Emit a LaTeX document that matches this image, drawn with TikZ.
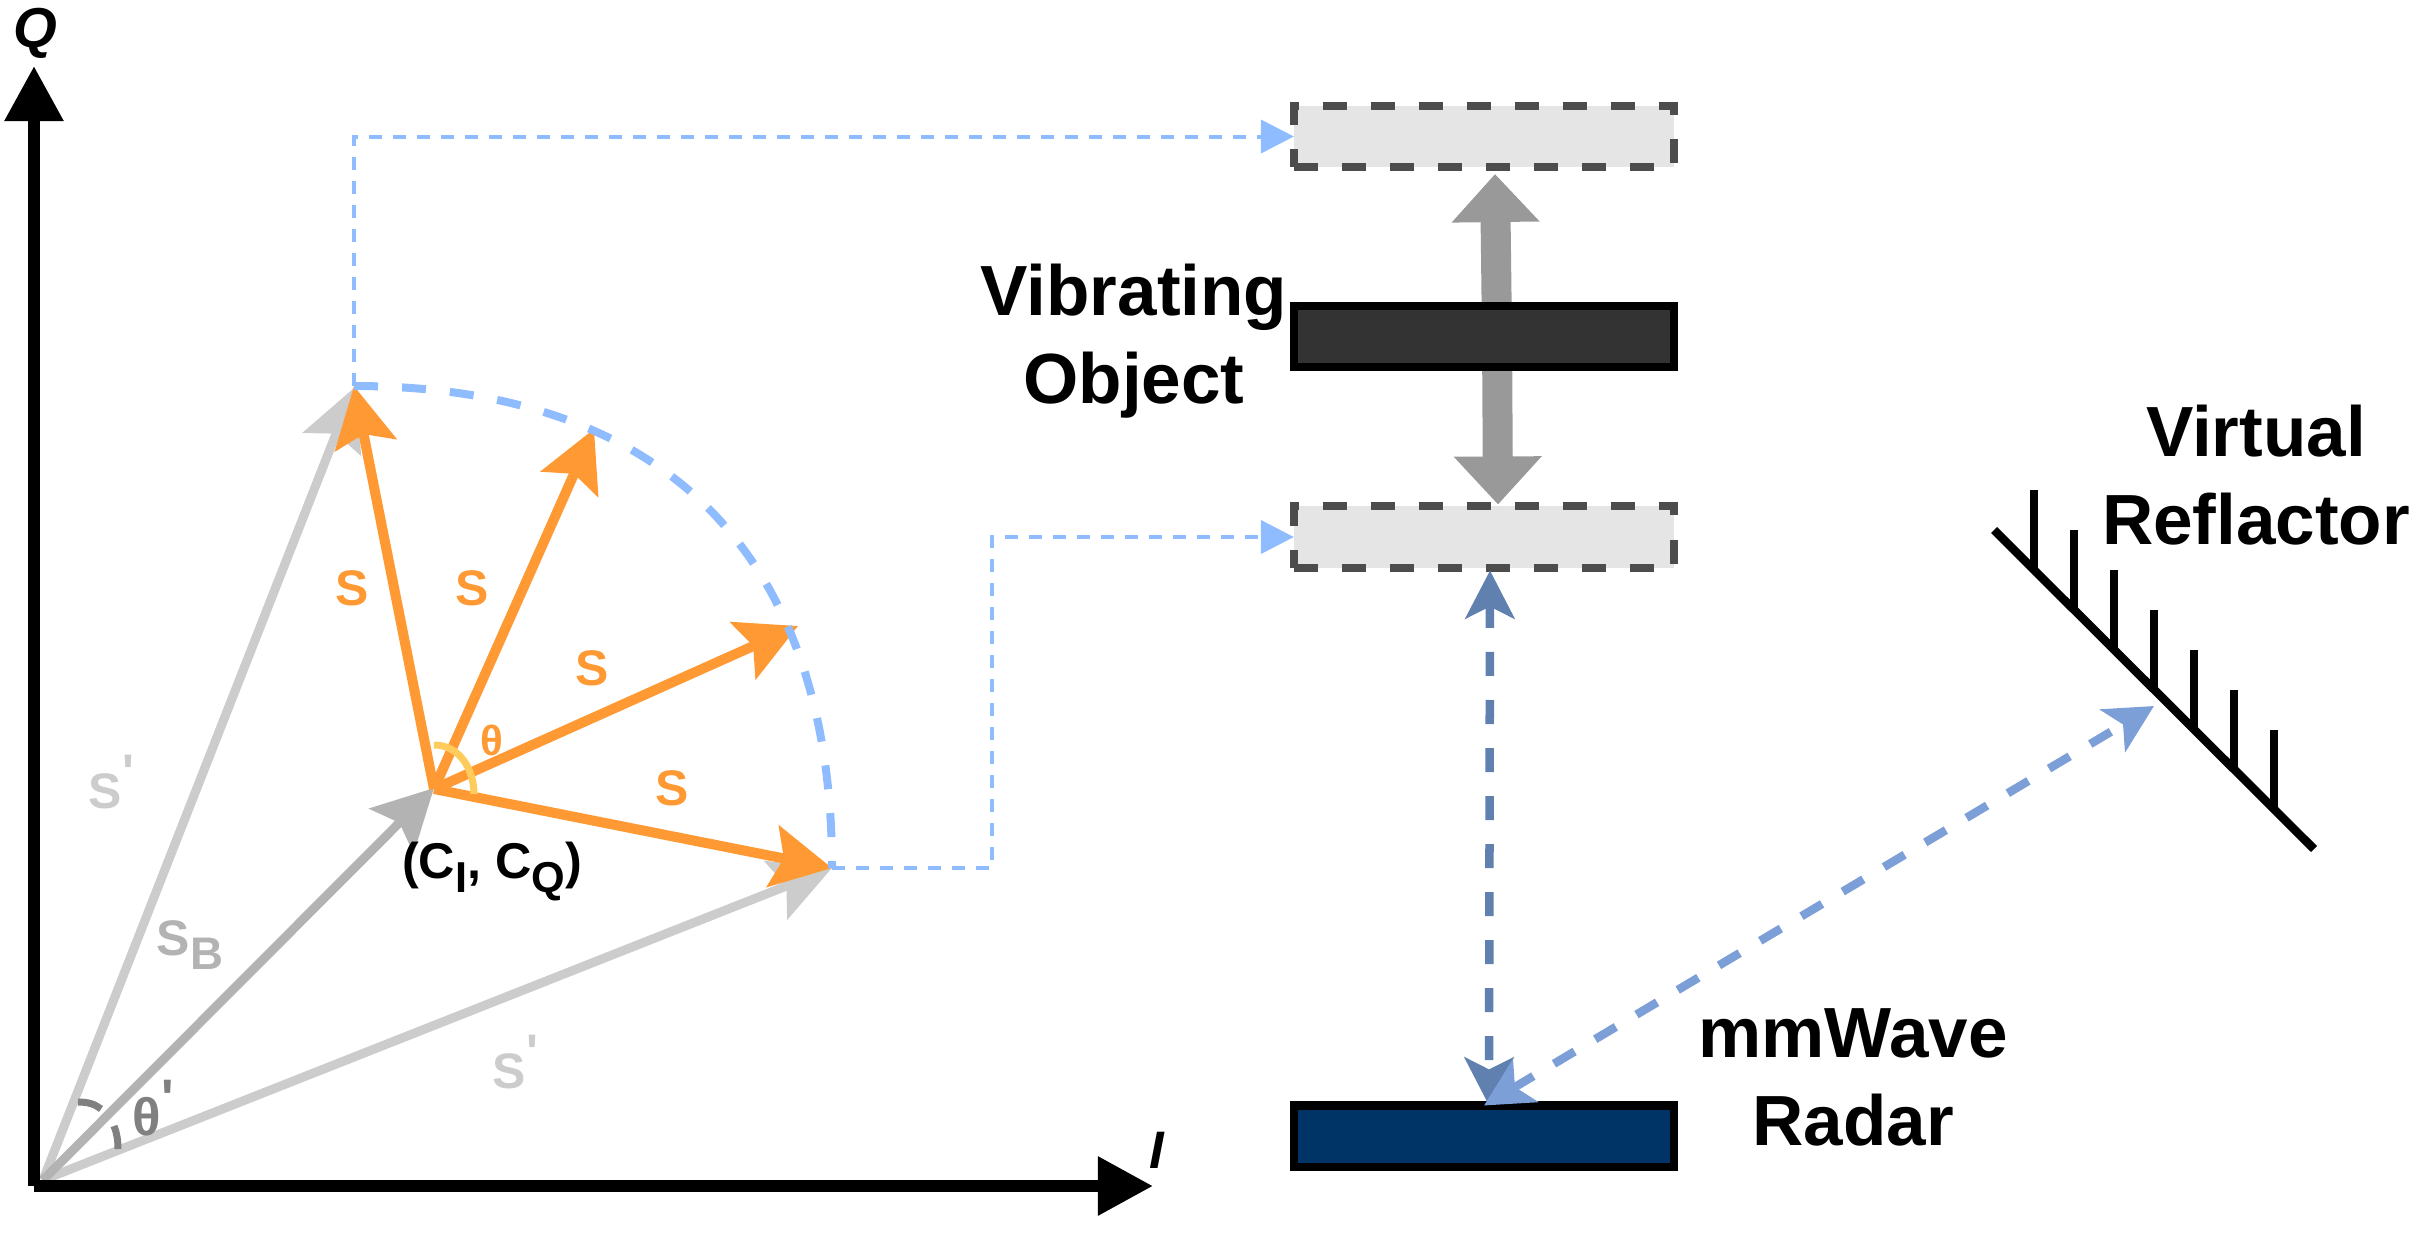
\documentclass[tikz,border=0pt]{standalone}
\usepackage{fontspec}
\usepackage{xcolor}
\usepackage{tikz}
\usetikzlibrary{arrows.meta,positioning}
\newfontfamily\labfont{Liberation Sans}
\definecolor{vecorange}{RGB}{255,153,51}
\definecolor{veclight}{RGB}{204,204,204}
\definecolor{vecbase}{RGB}{179,179,179}
\definecolor{anglegray}{RGB}{128,128,128}
\definecolor{anglegold}{RGB}{255,204,92}
\definecolor{traceblue}{RGB}{143,187,255}
\definecolor{pathdark}{RGB}{96,128,176}
\definecolor{pathlight}{RGB}{124,159,216}
\definecolor{navybox}{RGB}{0,51,102}
\newcommand{\fsz}[1]{\fontsize{#1}{#1}\selectfont}
\newcommand{\lowtxt}[1]{\raisebox{-0.14cm}{\fsz{12.3}#1}}
\newcommand{\hightxt}[1]{\raisebox{0.19cm}{#1}}
\tikzset{
  vechead/.tip={Stealth[length=0.6cm,width=0.62cm,inset=0.11cm]},
  pathhead/.tip={Stealth[length=0.48cm,width=0.49cm,inset=0.12cm]},
  vec/.style={-{vechead},line width=0.1cm,vecorange},
  graylen/.style={-{vechead},line width=0.09cm,veclight},
  axis/.style={-{Triangle[length=0.55cm,width=0.56cm]},line width=0.12cm},
  trace/.style={-{Triangle[length=0.33cm,width=0.33cm]},traceblue,line width=0.04cm,dash pattern=on 0.13cm off 0.11cm},
  vibmove/.style={-{Triangle[length=0.48cm,width=0.85cm]},line width=0.3cm,black!40},
  radarpath/.style={{pathhead}-{pathhead},line width=0.085cm,dash pattern=on 0.24cm off 0.24cm},
  plate/.style={rectangle,minimum width=3.8cm,minimum height=0.61cm,inner sep=0pt,outer sep=0pt,line width=0.08cm},
  ghost/.style={plate,draw=black!70,fill=black!10,dash pattern=on 0.24cm off 0.24cm},
  lab/.style={inner sep=0pt,anchor=base,font=\labfont\bfseries\fsz{14.2}},
  biglab/.style={inner sep=0pt,align=center,font=\labfont\bfseries\fontsize{20.2}{25}\selectfont},
}
\begin{document}
\begin{tikzpicture}[x=0.01cm,y=-0.01cm]
  \useasboundingbox (0,0) rectangle (2412,1248);
  \coordinate (origin) at (43,1180);
  \coordinate (centre) at (434,789);
  \coordinate (arcstart) at (354,386);
  \coordinate (arcend) at (832,868);
  \coordinate (tiptwo) at (594,429);
  \coordinate (tipthree) at (798,626);
  \coordinate (bend) at (992,537);
  \coordinate (mirrortip) at (2154,706);

  % gray vectors from the origin
  \draw[graylen] (origin)--(354,388);
  \draw[graylen] (origin)--(arcend);
  \draw[graylen,vecbase] (origin)--(434,788);
  \draw[anglegray,line width=0.07cm] (78,1102) .. controls (88,1102) and (95,1104) .. (101,1109);
  \draw[anglegray,line width=0.07cm] (114,1126) .. controls (117,1133) and (118,1141) .. (118,1149);

  % axes
  \draw[axis] (34,1186)--(34,66);
  \draw[axis] (34,1186)--(1153,1186);
  \node[lab,font=\labfont\bfseries\itshape\fsz{16}] (qlabel) at (35,47) {Q};
  \node[lab,font=\labfont\bfseries\itshape\fsz{15}] (ilabel) at (1157,1168) {I};

  % orange vectors
  \draw[vec] (centre)--(arcstart);
  \draw[vec] (centre)--(tiptwo);
  \draw[vec] (centre)--(tipthree);
  \draw[vec] (centre)--(arcend);
  \draw[anglegold,line width=0.07cm] (434,745) .. controls (460,745) and (474,770) .. (474,794);

  \foreach \n/\x/\y in {sa/352/605,sb/472/605,sc/592/685,sd/672/805}{
    \node[lab,vecorange] (\n) at (\x,\y) {S};}
  \node[lab,vecorange,font=\labfont\bfseries\fsz{12}] (thetaorange) at (492,755) {θ};
  \node[lab,veclight,anchor=base west] (sleft) at (88,808) {S\hightxt{'}};
  \node[lab,veclight,anchor=base west] (sright) at (492,1088) {S\hightxt{'}};
  \node[lab,vecbase,anchor=base west] (sbase) at (156,955) {S\lowtxt{\fsz{13}B}};
  \node[lab,anglegray,anchor=base west,font=\labfont\bfseries\fsz{15}] (thetagray) at (132,1135) {θ\hightxt{'}};
  \node[lab,font=\labfont\bfseries\fsz{14.3}] (centrelab) at (492,878) {(C\lowtxt{I}, C\lowtxt{Q})};

  % plates
  \node[ghost] (topghost) at (1484,136.5) {};
  \node[ghost] (lowghost) at (1484,537) {};
  \draw[vibmove] ([xshift=0.13cm]1484,336)--([xshift=0.11cm,yshift=-0.07cm]topghost.south);
  \draw[vibmove] ([xshift=0.13cm]1484,336)--([xshift=0.14cm,yshift=0.02cm]lowghost.north);
  \node[plate,draw=black,fill=black!80] (object) at (1484,336.5) {};
  \node[plate,draw=black,fill=navybox] (radar) at (1484,1136) {};

  % radar paths
  \draw[radarpath,pathdark] ([xshift=0.06cm,yshift=-0.03cm]lowghost.south)--([xshift=0.05cm]radar.north);
  \draw[radarpath,pathlight] (radar.north)--(mirrortip);

  % reflector
  \draw[line width=0.085cm] (1994,530)--(2314,849);
  \foreach \x/\y in {2034/490,2074/530,2114/570,2154/610,2194/650,2234/690,2274/730}{
    \draw[line width=0.08cm] (\x,\y)--(\x,\y+80);}

  \node[biglab] (objectlab) at (1134,341) {Vibrating\\Object};
  \node[biglab] (radarlab) at (1853,1077) {mmWave\\Radar};
  \node[biglab] (mirrorlab) at (2256,475) {Virtual\\Reflactor};

  % traces of the vector tip
  \draw[traceblue,line width=0.08cm,dash pattern=on 0.24cm off 0.24cm] (arcstart) .. controls (666,386) and (832,556) .. (arcend);
  \draw[trace] (arcstart) |- (topghost.west);
  \draw[trace] (arcend) -| (bend)--(lowghost.west);
\end{tikzpicture}
\end{document}
